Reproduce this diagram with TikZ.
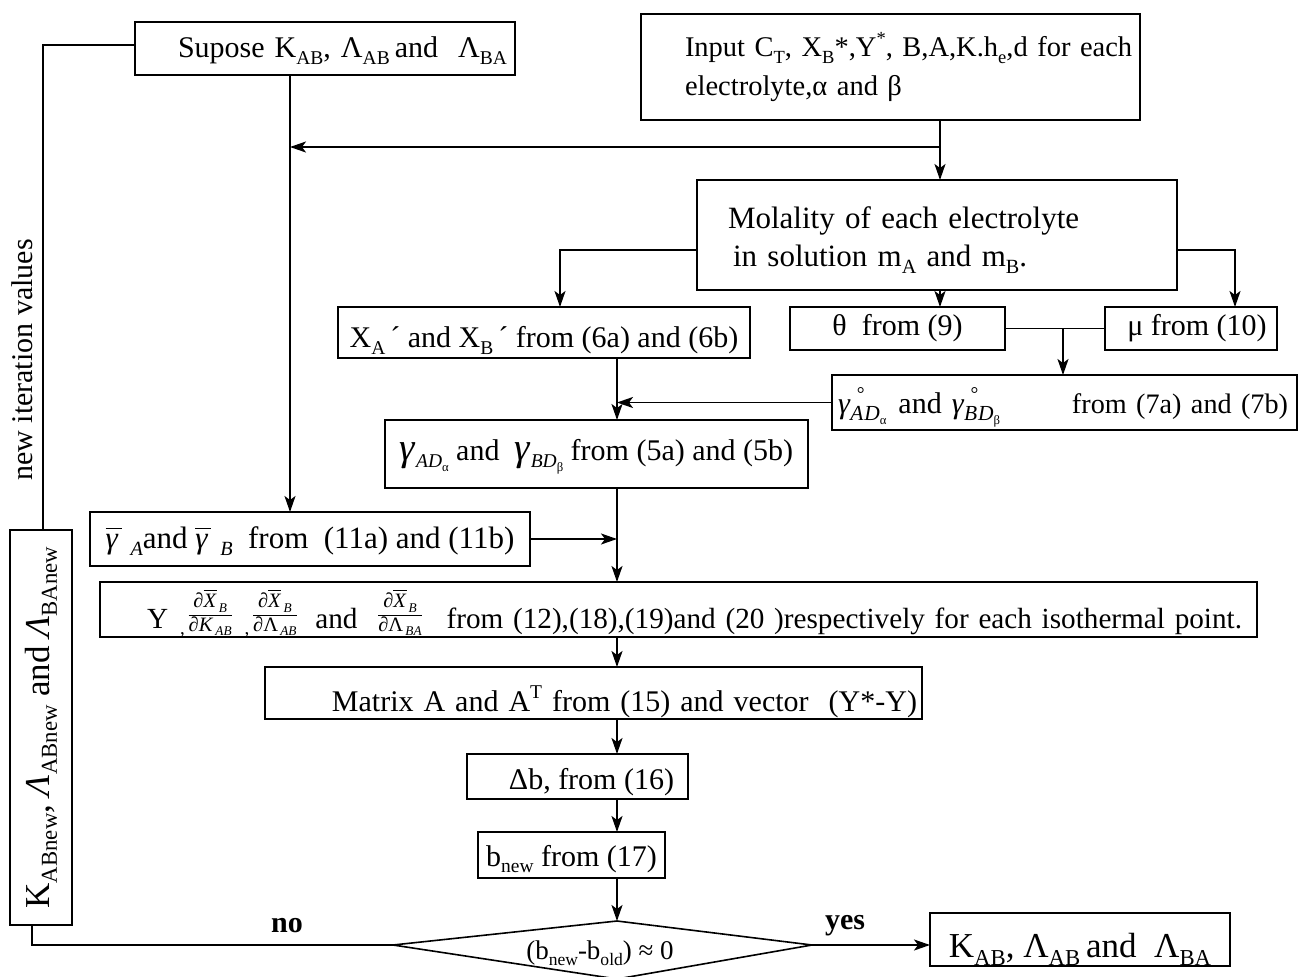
\documentclass[tikz,border=0pt]{standalone}
\usepackage{fontspec}
\setmainfont{Liberation Serif}
\usepackage{graphicx}
\usetikzlibrary{arrows.meta,calc}
\newcommand\lo[1]{\raisebox{-0.22em}{\scalebox{0.65}{#1}}}
\newcommand\hi[1]{\raisebox{0.45em}{\scalebox{0.65}{#1}}}
\newcommand\gi{\textit{γ}}
\newcommand\ov[1]{\vbox{\hrule height 1.6pt\kern 5pt\hbox{#1}}}
\newcommand\pfrac[2]{\raisebox{0.3em}{\scalebox{0.7}{$\displaystyle\frac{\hbox{#1}}{\hbox{#2}}$}}}
\newcommand\xbar{\textit{∂}\ov{\textit{X}}\lo{\,\textit{B}}}
\newcommand\dn[2]{\raisebox{-#1}[\height][\depth]{#2}}
\begin{document}
\begin{tikzpicture}[x=1pt,y=-1pt,
  font=\fontsize{30}{38}\selectfont,
  box/.style={draw, line width=1.3pt, inner sep=0pt, outer sep=0pt},
  conn/.style={line width=1.8pt},
  arr/.style={conn, -{Stealth[length=16pt,width=11pt,inset=4pt]}},
  lbl/.style={inner sep=0pt}]
\useasboundingbox (0,0) rectangle (1299,977);
\fill[white] (0,0) rectangle (1299,977);

% boxes
\node[box, minimum width=380pt, minimum height=53pt, text width=380pt, align=left] (sup) at (325,48.5)
  {\dn{2pt}{\hspace*{43pt}Supose K\lo{AB}, Λ\lo{AB}\,and\ \ Λ\lo{BA}}};
\node[box, minimum width=499pt, minimum height=106pt, text width=499pt, align=left, font=\fontsize{28.5}{39}\selectfont] (inp) at (890.5,67)
  {\hspace*{44pt}\mbox{Input C\lo{T}, X\lo{B}*,Y\hi{*}, B,A,K.h\lo{e},d for each}\\\hspace*{44pt}\mbox{electrolyte,α and β}};
\node[box, minimum width=480pt, minimum height=110pt, text width=480pt, align=left, font=\fontsize{31}{38}\selectfont] (mol) at (937,235)
  {\hspace*{31pt}\dn{5pt}{Molality of each electrolyte}\\\hspace*{36pt}\dn{5pt}{in solution m\lo{A} and m\lo{B}.}};
\node[box, minimum width=412pt, minimum height=51pt] (xa) at (544,332.5)
  {\dn{8pt}{X\lo{A}\,´ and X\lo{B}\,´ from (6a) and (6b)}};
\node[box, minimum width=215pt, minimum height=43pt] (th) at (897.5,328.5) {θ\ \ from (9)};
\node[box, minimum width=172pt, minimum height=43pt] (mu) at (1191,328.5) {\hspace*{12pt}μ from (10)};
\node[box, minimum width=465pt, minimum height=55pt, text width=465pt, align=left] (g0) at (1064.5,402.5)
  {\dn{5pt}{\hspace*{6pt}\gi\rlap{\hi{\ °}}\lo{\scalebox{1.1}{\textit{A\kern1pt D}}\lo{α}}\hspace{12pt}and\hspace{10pt}\gi\rlap{\hi{\ °}}\lo{\scalebox{1.1}{\textit{B\kern1pt D}}\lo{β}}\hspace{72pt}\scalebox{0.94}{from (7a) and (7b)}}};
\node[box, minimum width=423pt, minimum height=68pt] (g) at (596.5,454)
  {\dn{3pt}{\scalebox{1.3}{\gi}\lo{\textit{AD}\lo{α}} and\ \ \scalebox{1.3}{\gi}\lo{\textit{BD}\lo{β}} from (5a) and (5b)}};
\node[box, minimum width=440pt, minimum height=54pt, font=\fontsize{31}{38}\selectfont] (gbar) at (310,539)
  {\dn{2pt}{\ov{\gi\kern3pt}\hspace{9pt}\lo{\textit{A}}and\ \ov{\gi\kern3pt}\hspace{9pt}\lo{\textit{B}}\ \ from\ \ (11a) and (11b)}};
\node[box, minimum width=1157pt, minimum height=55pt, text width=1157pt, align=left, font=\fontsize{29.2}{36}\selectfont] (Y) at (678.5,609.5)
  {\dn{4pt}{\hspace*{47pt}Y\hspace{12pt}\lo{,}\hspace{3pt}\pfrac{\xbar}{\textit{∂K}\lo{\,\textit{AB}}}\hspace{12pt}\lo{,}\hspace{3pt}\pfrac{\xbar}{∂Λ\lo{\,\textit{AB}}}\hspace{18pt}and\hspace{20pt}\pfrac{\xbar}{∂Λ\lo{\,\textit{BA}}}\hspace{24pt}from (12),(18),(19)and (20 )respectively for each isothermal point.}};
\node[box, minimum width=657pt, minimum height=52pt, text width=657pt, align=right] (mat) at (593.5,693)
  {\dn{9pt}{Matrix A and A\hi{T} from (15) and vector\ \ (Y*-Y)\kern5pt}};
\node[box, minimum width=221pt, minimum height=45pt] (db) at (577.5,776.5) {\dn{6pt}{\hspace*{28pt}Δb, from (16)}};
\node[box, minimum width=187pt, minimum height=46pt] (bn) at (571.5,855) {\dn{4pt}{b\lo{new} from (17)}};
\node[box, minimum width=300pt, minimum height=53pt, font=\fontsize{35}{40}\selectfont] (res) at (1080,939.5) {\dn{10pt}{K\lo{AB}, Λ\lo{AB}\,and\ \ Λ\lo{BA}}};
\node[box, rotate=90, minimum width=395pt, minimum height=62pt, font=\fontsize{35}{38}\selectfont] (knew) at (41,727.5)
  {K\lo{ABnew}, \textit{Λ}\lo{ABnew} and \textit{Λ}\lo{BAnew}};
\node[lbl, rotate=90] (iter) at (22,360) {new iteration values};

% decision
\coordinate (dT) at (617,921);
\coordinate (dL) at (393,945);
\coordinate (dR) at (812,945);
\coordinate (dB) at (617,979);
\draw[line width=1.6pt] (dL) -- (dT) -- (dR) -- (dB) -- cycle;
\node[lbl, font=\fontsize{27}{30}\selectfont] (dtext) at (600,953) {(b\lo{new}-b\lo{old}) ≈ 0};
\node[lbl, font=\bfseries\fontsize{30}{36}\selectfont] (no) at (287,926) {no};
\node[lbl, font=\bfseries\fontsize{30}{36}\selectfont] (yes) at (845,926) {yes};

% junctions
\coordinate (L1) at (290,147);
\coordinate (J1) at (940,147);
\coordinate (J2) at (560,250);
\coordinate (J3) at (1235,250);
\coordinate (J4) at (1063,328.5);
\coordinate (L2) at (617,539);
\coordinate (LB) at (32,945);
\coordinate (LT) at (43,45);

% connectors
\draw[arr] (sup.south -| L1) -- (gbar.north -| L1);
\draw[conn] (inp.south -| J1) -- (J1);
\draw[arr] (J1) -- (mol.north -| J1);
\draw[arr] (J1) -- (L1);
\draw[arr] (mol.west |- J2) -| (xa.north -| J2);
\draw[arr] (mol.east |- J3) -| (mu.north -| J3);
\draw[arr] (mol.south -| J1) -- (th.north -| J1);
\draw[conn] (th.east) -- (mu.west);
\draw[arr] (J4) -- (g0.north -| J4);
\draw[arr] (xa.south -| L2) -- (g.north -| L2);
\draw[arr] (g0.west) -- (g0.west -| L2);
\draw[arr] (g.south -| L2) -- (Y.north -| L2);
\draw[arr] (gbar.east) -- (L2);
\draw[arr] (Y.south -| L2) -- (mat.north -| L2);
\draw[arr] (mat.south -| L2) -- (db.north -| L2);
\draw[arr] (db.south -| L2) -- (bn.north -| L2);
\draw[arr] (bn.south -| L2) -- (dT);
\draw[conn] (dL) -| (knew.west -| LB);
\draw[conn] (knew.east -| LT) |- (sup.west |- LT);
\draw[arr] (dR) -- (dR -| res.west);
\end{tikzpicture}
\end{document}
